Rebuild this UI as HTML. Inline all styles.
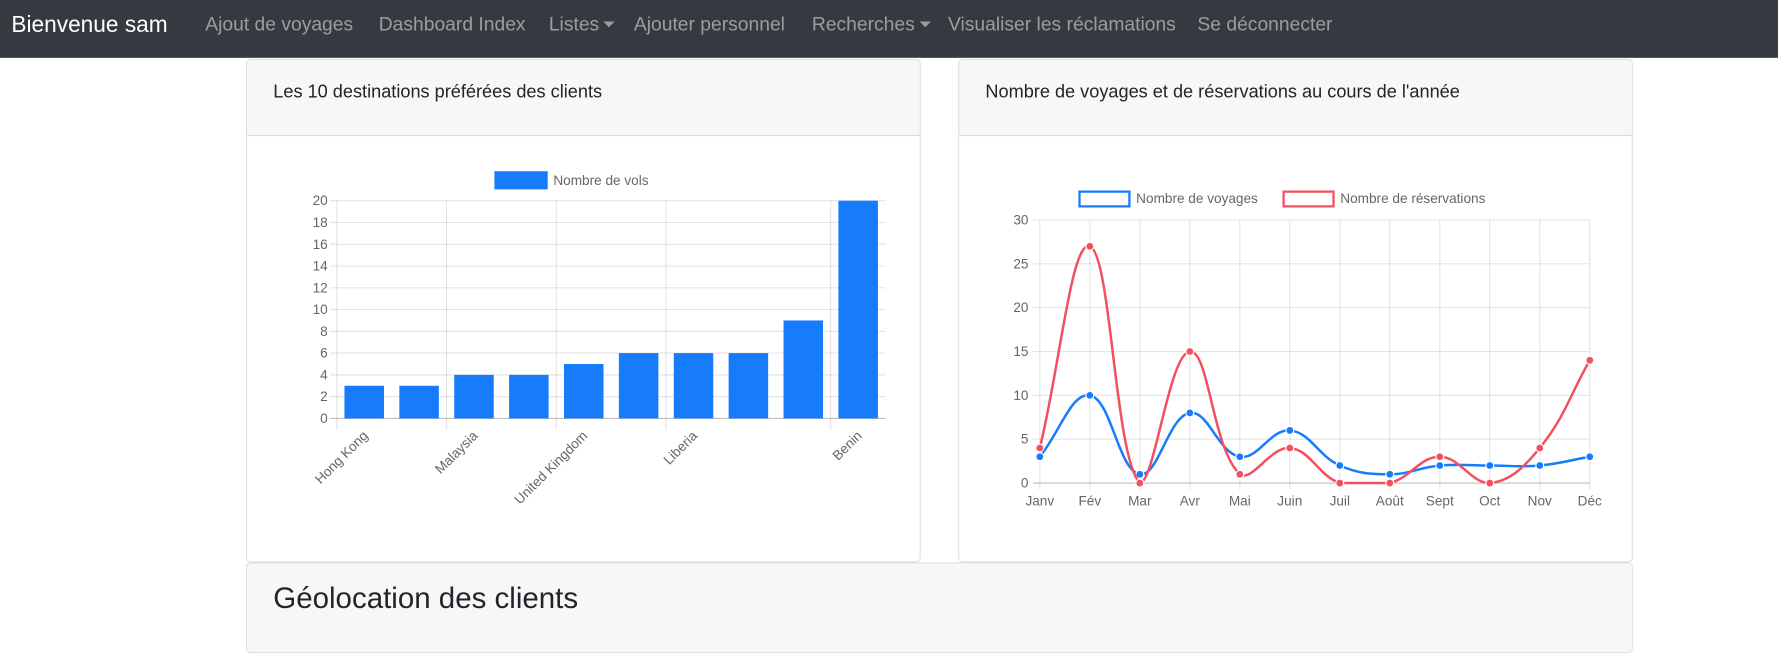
<!DOCTYPE html>
<html><head><meta charset="utf-8">
<style>
html,body{margin:0;padding:0;width:1778px;height:621px;overflow:hidden;background:#fff;font-family:"Liberation Sans",Arial,sans-serif;}
#wrap{position:absolute;left:0;top:0;width:1568px;height:548px;transform:scale(1.13393);transform-origin:0 0;}
.nav{position:absolute;left:0;top:0;width:1568px;height:51px;background:#343a40;}
.brand{position:absolute;left:10px;top:11px;font-size:20px;color:#fff;}
.nl{position:absolute;top:12px;font-size:17px;color:rgba(255,255,255,.5);white-space:nowrap;}
.caret{display:inline-block;width:0;height:0;border-left:5px solid transparent;border-right:5px solid transparent;border-top:5px solid rgba(255,255,255,.5);vertical-align:3px;margin-left:4px;}
.card{position:absolute;border:1px solid rgba(0,0,0,.125);border-radius:4px;background:#fff;box-sizing:border-box;overflow:hidden;}
.ch{position:absolute;left:0;top:0;right:0;height:66px;background:#f7f7f7;border-bottom:1px solid rgba(0,0,0,.125);}
.ct{position:absolute;left:23px;top:20px;font-size:16px;color:#212529;white-space:nowrap;}
svg text{font-family:"Liberation Sans",Arial,sans-serif;font-size:12px;fill:#666;}
</style></head><body>
<div id="wrap">
<div class="nav">
 <div class="brand">Bienvenue sam</div>
 <div class="nl" style="left:181px">Ajout de voyages</div>
 <div class="nl" style="left:334px">Dashboard Index</div>
 <div class="nl" style="left:484px">Listes<span class="caret"></span></div>
 <div class="nl" style="left:559px">Ajouter personnel</div>
 <div class="nl" style="left:716px">Recherches<span class="caret"></span></div>
 <div class="nl" style="left:836px">Visualiser les réclamations</div>
 <div class="nl" style="left:1056px">Se déconnecter</div>
</div>

<div class="card" style="left:217px;top:52px;width:595px;height:444px">
 <div class="ch"><div class="ct">Les 10 destinations préférées des clients</div></div>
 <svg id="bar" width="595" height="444" style="position:absolute;left:-1px;top:-1px"></svg>
</div>

<div class="card" style="left:845px;top:52px;width:595px;height:444px">
 <div class="ch"><div class="ct">Nombre de voyages et de réservations au cours de l'année</div></div>
 <svg id="line" width="595" height="444" style="position:absolute;left:-1px;top:-1px"></svg>
</div>

<div class="card" style="left:217px;top:496px;width:1223px;height:80px">
 <div class="ch" style="height:80px"><div class="ct" style="top:15px;font-size:26px;font-weight:500;color:#212529">Géolocation des clients</div></div>
</div>
</div>

<script>
const barCategories=["Hong Kong","Canada","Malaysia","France","United Kingdom","Spain","Liberia","Morocco","Senegal","Benin"];
const barValues=[3,3,4,4,5,6,6,6,9,20];
const barLabelShown=[0,2,4,6,9];
const barYTicks=[0,2,4,6,8,10,12,14,16,18,20];

const months=["Janv","Fév","Mar","Avr","Mai","Juin","Juil","Août","Sept","Oct","Nov","Déc"];
const voyages=[3,10,1,8,3,6,2,1,2,2,2,3];
const reservations=[4,27,0,15,1,4,0,0,3,0,4,14];
const lineYTicks=[0,5,10,15,20,25,30];

const NS="http://www.w3.org/2000/svg";
function mk(p,tag,a){const e=document.createElementNS(NS,tag);for(const k in a)e.setAttribute(k,a[k]);p.appendChild(e);return e;}

(function(){
 const svg=document.getElementById('bar');
 const L=297-217,R=781-217,T=177-52,B=369-52,ymax=20;
 const y=v=>B-(v/ymax)*(B-T);
 const cw=(R-L)/barCategories.length;
 const x=i=>L+cw*(i+0.5);
 barYTicks.forEach(t=>{
  const g=mk(svg,'line',{x1:L-6,x2:R,y1:y(t),y2:y(t),stroke:t===0?'rgba(0,0,0,0.25)':'rgba(0,0,0,0.1)','stroke-width':1});
  
  
  const tx=mk(svg,'text',{x:L-8,y:y(t)+4,'text-anchor':'end'});tx.textContent=t;
  
  
 });
 barLabelShown.forEach(i=>{
  const gx=L+cw*i;
  const g=mk(svg,'line',{x1:gx,x2:gx,y1:T,y2:B+10,stroke:'rgba(0,0,0,0.1)'});
  
  
 });
 barValues.forEach((v,i)=>{
  const bw=cw*0.72;
  const r=mk(svg,'rect',{x:x(i)-bw/2,y:y(v),width:bw,height:B-y(v),fill:'#167cfb'});
  
  
 });
 barLabelShown.forEach(i=>{
  const lx=x(i)+4,ly=B+16;
  const tx=mk(svg,'text',{x:lx,y:ly,'text-anchor':'end',transform:`rotate(-45 ${lx} ${ly})`});
  tx.textContent=barCategories[i];
  
  
 });
 const lb=mk(svg,'rect',{x:436-217,y:151-52,width:47,height:16,fill:'#167cfb'});
 
 
 const lt=mk(svg,'text',{x:488-217,y:163-52});lt.textContent='Nombre de vols';
 
 
})();

(function(){
 const svg=document.getElementById('line');
 const L=917-845,R=1402-845,T=194-52,B=426-52,ymax=30;
 const y=v=>B-(v/ymax)*(B-T);
 const step=(R-L)/(months.length-1);
 const x=i=>L+step*i;
 lineYTicks.forEach(t=>{
  const g=mk(svg,'line',{x1:L-6,x2:R,y1:y(t),y2:y(t),stroke:t===0?'rgba(0,0,0,0.25)':'rgba(0,0,0,0.1)'});
  
  
  const tx=mk(svg,'text',{x:L-10,y:y(t)+4,'text-anchor':'end'});tx.textContent=t;
  
  
 });
 months.forEach((m,i)=>{
  const g=mk(svg,'line',{x1:x(i),x2:x(i),y1:T,y2:B+6,stroke:'rgba(0,0,0,0.1)'});
  
  
  const tx=mk(svg,'text',{x:x(i),y:B+20,'text-anchor':'middle'});tx.textContent=m;
  
  
 });
 const cap=v=>Math.max(T,Math.min(B,v));
 function path(vals){
  const p=vals.map((v,i)=>[x(i),y(v)]);const t=0.4;
  let d=`M${p[0][0]},${p[0][1]}`;
  const cps=p.map((c,i)=>{
   const pr=p[i-1]||c,nx=p[i+1]||c;
   const d01=Math.hypot(c[0]-pr[0],c[1]-pr[1]),d12=Math.hypot(nx[0]-c[0],nx[1]-c[1]);
   let fa=d01/(d01+d12)||0,fb=d12/(d01+d12)||0;fa*=t;fb*=t;
   return {p:[c[0]-fa*(nx[0]-pr[0]),cap(c[1]-fa*(nx[1]-pr[1]))],n:[c[0]+fb*(nx[0]-pr[0]),cap(c[1]+fb*(nx[1]-pr[1]))]};
  });
  for(let i=1;i<p.length;i++){const a=cps[i-1].n,b=cps[i].p;d+=` C${a[0]},${a[1]} ${b[0]},${b[1]} ${p[i][0]},${p[i][1]}`;}
  return d;
 }
 [[voyages,'#167cfb','voyages'],[reservations,'#f2505f','reservations']].forEach(([vals,col,nm])=>{
  const pe=mk(svg,'path',{d:path(vals),fill:'none',stroke:col,'stroke-width':2.2});
  
  
  vals.forEach((v,i)=>{
   const c=mk(svg,'circle',{cx:x(i),cy:y(v),r:3.5,fill:col,stroke:'#fff','stroke-width':1});
   
   
  });
 });
 const b1=mk(svg,'rect',{x:951-845+1,y:168-52+1,width:44,height:13,fill:'#fff',stroke:'#167cfb','stroke-width':2});
 
 
 const t1=mk(svg,'text',{x:1002-845,y:179-52});t1.textContent='Nombre de voyages';
 
 
 const b2=mk(svg,'rect',{x:1131-845+1,y:168-52+1,width:44,height:13,fill:'#fff',stroke:'#f2505f','stroke-width':2});
 
 
 const t2=mk(svg,'text',{x:1182-845,y:179-52});t2.textContent='Nombre de réservations';
 
 
})();
</script>
</body></html>
